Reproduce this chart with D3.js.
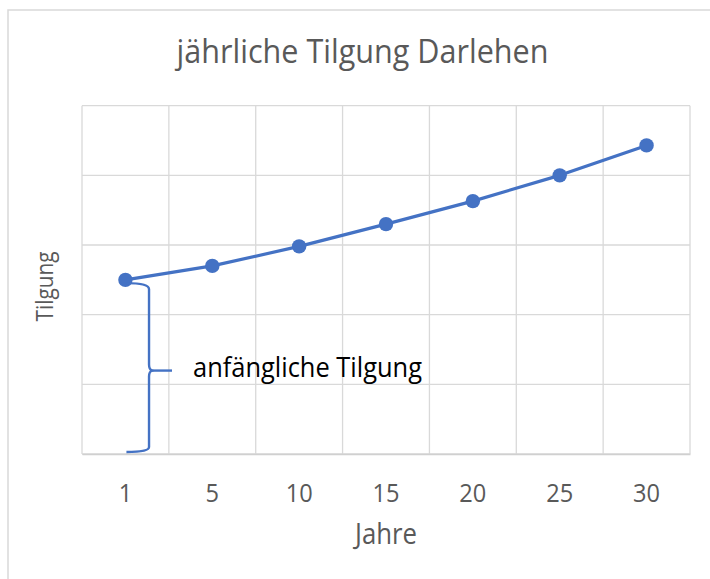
<!DOCTYPE html>
<html><head><meta charset="utf-8">
<script src="https://cdn.jsdelivr.net/npm/d3@7"></script>
<style>html,body{margin:0;padding:0;background:#fff;}svg{display:block;}text{font-family:"Open Sans",sans-serif;}</style>
</head><body><svg id="c" width="710" height="579"></svg>
<script>
const categories = ["1","5","10","15","20","25","30"];
const tilgung = [2.5, 2.7, 2.98, 3.3, 3.63, 4.0, 4.43];
const yTicks = [0,1,2,3,4,5];
const title = "jährliche Tilgung Darlehen";
const xTitle = "Jahre";
const yTitle = "Tilgung";
const annotation = "anfängliche Tilgung";

const svg = d3.select("#c");
const blue = "#4472C4", grid = "#d9d9d9", txt = "#595959";

svg.append("rect").attr("x",8).attr("y",10).attr("width",720).attr("height",600)
  .attr("fill","#fff").attr("stroke","#d9d9d9").attr("stroke-width",1.5);

const L=82,R=690,T=105.7,B=454;
const x = d3.scaleBand().domain(categories).range([L,R]).padding(0);
const y = d3.scaleLinear().domain([0,5]).range([B,T]);
const cx = d => x(d)+x.bandwidth()/2;

// grid
const g = svg.append("g");
g.selectAll("line.h").data(yTicks).join("line")
  .attr("x1",L).attr("x2",R).attr("y1",d=>y(d)).attr("y2",d=>y(d))
  .attr("stroke",grid).attr("stroke-width",1.3);
const vx = categories.map(c=>x(c)).concat([R]);
g.selectAll("line.v").data(vx).join("line")
  .attr("x1",d=>d).attr("x2",d=>d).attr("y1",T).attr("y2",B)
  .attr("stroke",grid).attr("stroke-width",1.3);

const SC = 1.1; // taller glyphs, compressed to width (Calibri-like)
function fit(sel, w){
  const n = sel.node(); const fs = parseFloat(sel.style("font-size"));
  const cw = n.getComputedTextLength();
  sel.style("font-size",(fs*w/cw*SC)+"px")
     .attr("textLength",w).attr("lengthAdjust","spacingAndGlyphs");
}

// x axis
const xa = svg.append("g").attr("transform",`translate(0,${B})`)
  .call(d3.axisBottom(x).tickSize(0).tickPadding(0));
xa.select(".domain").attr("stroke","#d0d0d0").attr("stroke-width",1.5);
xa.selectAll("text").attr("fill",txt).attr("dy",null).attr("y",48)
  .style("font-family","Open Sans").style("font-size","22px");
{
  const t10 = xa.selectAll("text").filter(d=>d==="10");
  const cw = t10.node().getComputedTextLength();
  const f = 22*27/cw;
  xa.selectAll("text").each(function(){
    const s = d3.select(this);
    const w = this.getComputedTextLength()*27/cw;
    s.style("font-size",(f*SC)+"px").attr("textLength",w).attr("lengthAdjust","spacingAndGlyphs");
  });
}

// line
svg.append("path").datum(tilgung)
  .attr("d",d3.line().x((d,i)=>cx(categories[i])).y(d=>y(d)))
  .attr("fill","none").attr("stroke",blue).attr("stroke-width",3.2).attr("stroke-linejoin","round");
svg.selectAll("circle.pt").data(tilgung).join("circle")
  .attr("cx",(d,i)=>cx(categories[i])).attr("cy",d=>y(d)).attr("r",7.2).attr("fill",blue);

// brace
const x0 = cx(categories[0]);
const yTop = y(tilgung[0])+3.3, yBot = y(0)-2, yMid = (yTop+yBot)/2 + 3;
const bx = x0+23.6;
const p = d3.path();
p.moveTo(x0+1, yTop);
p.bezierCurveTo(x0+12, yTop, bx, yTop+1, bx, yTop+6);
p.lineTo(bx, yMid-6);
p.quadraticCurveTo(bx, yMid-1, bx+3, yMid);
p.quadraticCurveTo(bx, yMid+1, bx, yMid+6);
p.lineTo(bx, yBot-5);
p.bezierCurveTo(bx, yBot-1, x0+12, yBot, x0+1, yBot);
svg.append("path").attr("d",p.toString()).attr("fill","none").attr("stroke",blue).attr("stroke-width",2.4);
svg.append("line").attr("x1",bx+2).attr("x2",bx+23).attr("y1",yMid).attr("y2",yMid)
  .attr("stroke",blue).attr("stroke-width",2.4);

// texts
const tt = svg.append("text").attr("x",362.5).attr("y",63).attr("text-anchor","middle")
  .attr("fill",txt).style("font-size","26px").text(title);
fit(tt,372);
const xt = svg.append("text").attr("x",386).attr("y",544).attr("text-anchor","middle")
  .attr("fill",txt).style("font-size","22px").text(xTitle);
fit(xt,62);
const yt = svg.append("text").attr("transform","translate(53,286.5) rotate(-90)").attr("text-anchor","middle")
  .attr("fill",txt).style("font-size","22px").text(yTitle);
fit(yt,70);
const at = svg.append("text").attr("x",193).attr("y",377)
  .attr("fill","#000").style("font-size","22px").text(annotation);
fit(at,229);
</script></body></html>
